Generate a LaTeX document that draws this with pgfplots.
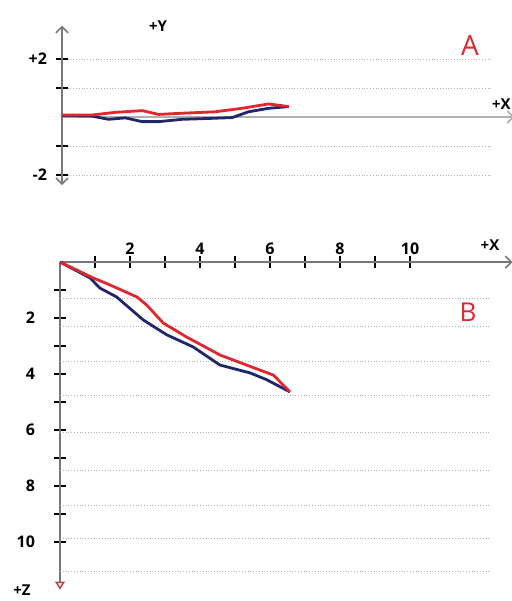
\documentclass[border=0pt]{standalone}
\usepackage{fontspec}
\setmainfont{Open Sans}
\usepackage{pgfplots}
\pgfplotsset{compat=1.18}
\usetikzlibrary{arrows.meta}
\definecolor{lineblue}{RGB}{32,38,105}
\definecolor{linered}{RGB}{226,38,48}
\definecolor{gridc}{RGB}{175,175,175}
\definecolor{axisc}{RGB}{120,120,120}
\begin{document}
\begin{tikzpicture}[x=1pt,y=1pt]
\useasboundingbox (0pt,0pt) rectangle (256pt,-300.5pt);
% ---------------- Panel A ----------------
\begin{axis}[
  at={(31pt,-92.575pt)}, anchor=south west,
  x=17.5pt, y=14.5pt,
  xmin=0, xmax=12.3, ymin=-2.35, ymax=3.15,
  axis lines=middle,
  x axis line style={draw=gridc, line width=0.8pt, -{Straight Barb[length=3pt,width=6pt]}, shorten >=-11pt},
  y axis line style={draw=axisc, line width=0.8pt, {Straight Barb[length=3pt,width=6pt]}-{Straight Barb[length=3pt,width=6pt]}},
  xtick=\empty,
  ytick={-2,-1,1,2},
  yticklabels={-2,,,+2},
  tick style={black, line width=0.6pt},
  major tick length=6pt, tick align=center,
  yticklabel style={font=\fontsize{8}{9}\selectfont\bfseries, anchor=east, xshift=-1pt},
  ymajorgrids=true,
  major grid style={densely dotted, gridc, line width=0.5pt},
  /pgf/number format/assume math mode=true,
  clip=false,
]
\addplot[lineblue, line width=1.4pt, line join=round] coordinates {
 (0,0.05) (0.86,0.03) (1.33,-0.08) (1.81,-0.03) (2.29,-0.16) (2.76,-0.16)
 (3.43,-0.08) (4.19,-0.05) (4.86,-0.02) (5.33,0.18) (5.9,0.3) (6.48,0.36)};
\addplot[linered, line width=1.4pt, line join=round] coordinates {
 (0,0.07) (0.86,0.07) (1.52,0.16) (2.29,0.22) (2.76,0.09) (3.43,0.13)
 (4.38,0.18) (5.14,0.3) (5.9,0.45) (6.48,0.36)};
\end{axis}
% ---------------- Panel B ----------------
\begin{axis}[
  at={(30pt,-294.8pt)}, anchor=south west,
  x=17.5pt, y=14pt, y dir=reverse,
  xmin=0, xmax=12.3, ymin=0, ymax=11.7,
  axis lines=middle,
  x axis line style={draw=axisc, line width=0.8pt, -{Straight Barb[length=3pt,width=6pt]}, shorten >=-11pt},
  y axis line style={draw=axisc, line width=0.8pt, -{Triangle[open, length=4pt, width=5pt, color=linered!60!gray]}},
  xtick={1,...,10},
  xticklabels={,2,,4,,6,,8,,10},
  ytick={1,...,10},
  yticklabels={,2,,4,,6,,8,,10},
  tick style={black, line width=0.6pt},
  major tick length=6pt, tick align=center,
  xticklabel style={font=\fontsize{8}{9}\selectfont\bfseries, anchor=south, yshift=3pt},
  yticklabel style={font=\fontsize{8}{9}\selectfont\bfseries, anchor=east, xshift=-6pt},
  extra y ticks={1.29,2.32,3.57,4.75,6.1,7.43,8.68,9.86,11.07},
  extra y tick labels={},
  extra y tick style={grid=major, major tick length=0pt},
  major grid style={densely dotted, gridc, line width=0.5pt},
  /pgf/number format/assume math mode=true,
  clip=false,
]
\addplot[lineblue, line width=1.4pt, line join=round] coordinates {
 (0,0) (0.86,0.57) (1.14,0.93) (1.62,1.25) (2.38,2.07) (3.05,2.6) (3.8,3.03)
 (4.57,3.68) (5.43,3.96) (5.9,4.2) (6.57,4.64)};
\addplot[linered, line width=1.4pt, line join=round] coordinates {
 (0,0) (0.95,0.57) (1.43,0.82) (2.2,1.25) (2.48,1.54) (2.95,2.18) (3.62,2.68)
 (4.57,3.32) (5.33,3.68) (6.1,4.04) (6.57,4.64)};
\end{axis}
% ---------------- labels ----------------
\node[font=\fontsize{7.5}{9}\selectfont\bfseries] at (79pt,-13pt) {+Y};
\node[font=\fontsize{7.5}{9}\selectfont\bfseries, anchor=east, inner sep=0.5pt] at (256pt,-52pt) {+X};
\node[font=\fontsize{14}{15}\selectfont, text=linered] at (235pt,-22.5pt) {A};
\node[font=\fontsize{13}{14}\selectfont, text=linered] at (234pt,-156pt) {B};
\node[font=\fontsize{7.5}{9}\selectfont\bfseries] at (245pt,-122.5pt) {+X};
\node[font=\fontsize{7.5}{9}\selectfont\bfseries] at (11pt,-295pt) {+Z};
\end{tikzpicture}
\end{document}
